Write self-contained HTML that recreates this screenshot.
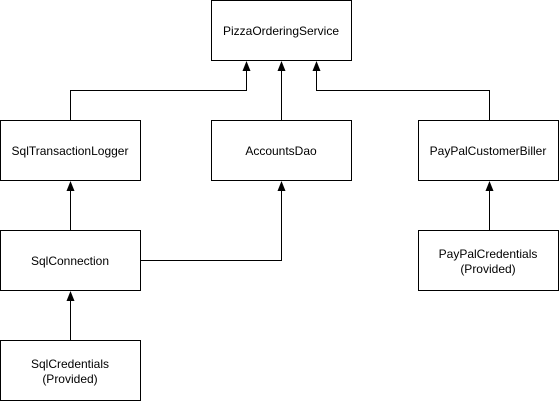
<!DOCTYPE html>
<html><head><style>
html,body{margin:0;padding:0;background:#fff;}
svg{display:block;}
text{font-family:"Liberation Sans",sans-serif;font-size:12px;fill:#000;}
</style></head><body>
<svg width="560" height="401" viewBox="0 0 560 401" xmlns="http://www.w3.org/2000/svg">
<defs><marker id="a" markerWidth="8" markerHeight="10" refX="4" refY="10" orient="auto-start-reverse" markerUnits="userSpaceOnUse" viewBox="0 0 8 10"><path d="M0,10 L4,0 L8,10 Z" fill="#000"/></marker></defs>
<g fill="#fff" stroke="#000" stroke-width="1">
<rect x="211.5" y="0.5" width="140" height="60"/>
<rect x="0.5" y="120.5" width="140" height="60"/>
<rect x="211.5" y="120.5" width="140" height="60"/>
<rect x="418.5" y="120.5" width="140" height="60"/>
<rect x="0.5" y="230.5" width="140" height="60"/>
<rect x="418.5" y="230.5" width="140" height="60"/>
<rect x="0.5" y="340.5" width="140" height="60"/>
</g>
<g fill="none" stroke="#000" stroke-width="1">
<path d="M70.5 120 V90.5 H246.5 V70" />
<path d="M281.5 120 V70" />
<path d="M489.5 120 V90.5 H316.5 V70" />
<path d="M70.5 230 V190" />
<path d="M70.5 340 V300" />
<path d="M489.5 230 V190" />
<path d="M141 260.5 H281.5 V190" />
</g>
<g fill="#000">
<path d="M242.5 71 L246.5 61 L250.5 71 Z"/>
<path d="M277.5 71 L281.5 61 L285.5 71 Z"/>
<path d="M312.5 71 L316.5 61 L320.5 71 Z"/>
<path d="M66.5 191 L70.5 181 L74.5 191 Z"/>
<path d="M66.5 301 L70.5 291 L74.5 301 Z"/>
<path d="M485.5 191 L489.5 181 L493.5 191 Z"/>
<path d="M277.5 191 L281.5 181 L285.5 191 Z"/>
</g>
<g text-anchor="middle">
<text x="281" y="35">PizzaOrderingService</text>
<text x="70" y="155">SqlTransactionLogger</text>
<text x="281" y="155">AccountsDao</text>
<text x="488" y="155">PayPalCustomerBiller</text>
<text x="70" y="265">SqlConnection</text>
<text x="488" y="258">PayPalCredentials</text>
<text x="488" y="273">(Provided)</text>
<text x="70" y="368">SqlCredentials</text>
<text x="70" y="383">(Provided)</text>
</g>
</svg>
</body></html>
